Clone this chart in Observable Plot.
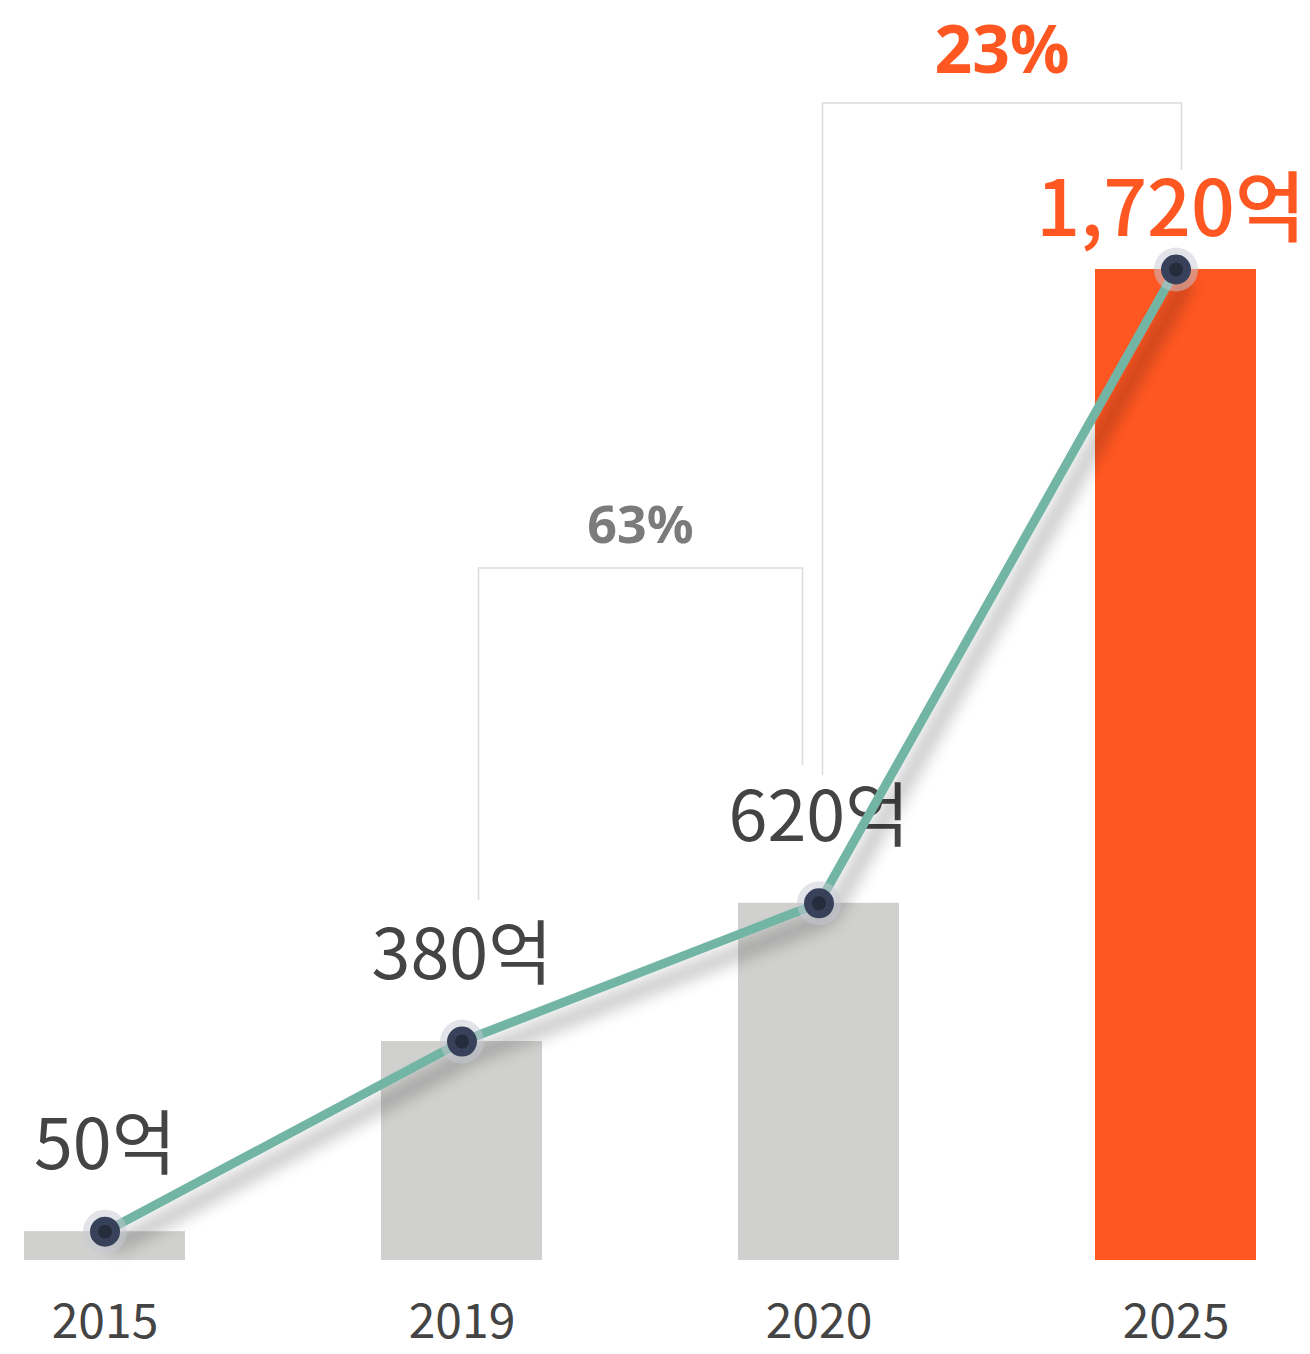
<!DOCTYPE html>
<html>
<head>
<meta charset="utf-8">
<script src="https://cdn.jsdelivr.net/npm/d3@7"></script>
<script src="https://cdn.jsdelivr.net/npm/@observablehq/plot@0.6"></script>
<style>
  html, body { margin: 0; padding: 0; background: #fff; }
  #chart svg { display: block; }
</style>
</head>
<body>
<div id="chart"></div>
<script>
// ---- data ----
const years = ["2015", "2019", "2020", "2025"];
const values = [50, 380, 620, 1720];
const valueLabels = ["50억", "380억", "620억", "1,720억"];
const highlighted = [false, false, false, true];
const growthLabels = ["63%", "23%"];
const growthFrom = ["2019", "2020"];
const growthTo = ["2020", "2025"];

const data = years.map((year, i) => ({ year, value: values[i], label: valueLabels[i], hl: highlighted[i] }));
const base = data.filter(d => !d.hl);
const hot = data.filter(d => d.hl);

const ORANGE = "#ff5722";
const GRAY_BAR = "#d0d0cf";
const TEXT = "#444444";

const chart = Plot.plot({
  width: 1310,
  height: 1354,
  marginTop: 269,
  marginBottom: 94,
  marginLeft: 0,
  marginRight: 30,
  style: { fontFamily: "'Noto Sans CJK KR', 'Noto Sans', sans-serif", fontSize: "48px", color: TEXT, background: "#fff" },
  x: { domain: years, paddingInner: 0.55, paddingOuter: 0.067, axis: null },
  y: { domain: [0, 1720], axis: null },
  marks: [
    Plot.barY(base, { x: "year", y: "value", fill: GRAY_BAR }),
    Plot.barY(hot, { x: "year", y: "value", fill: ORANGE }),
    Plot.axisX({ tickSize: 0, tickPadding: 43, fontSize: 48, fill: TEXT, label: null }),
    Plot.text(base, { x: "year", y: "value", text: "label", dy: -85, fontSize: 70, fill: TEXT }),
    Plot.text(hot, { x: "year", y: "value", text: "label", dx: -5, dy: -58, fontSize: 77, fontWeight: 500, fill: ORANGE }),
    Plot.line(data, { x: "year", y: "value", stroke: "#72b5a5", strokeWidth: 9 }),
    Plot.dot(data, { x: "year", y: "value", r: 22, fill: "#c5c9d4", fillOpacity: 0.5, stroke: "none" }),
    Plot.dot(data, { x: "year", y: "value", r: 13, fill: "#37415a", stroke: "#37415a", strokeWidth: 4 }),
    Plot.dot(data, { x: "year", y: "value", r: 7, fill: "#252c3b", stroke: "none" })
  ]
});

document.getElementById("chart").appendChild(chart);

// ---- soft shadow under the trend line ----
const svg = d3.select(chart);
const defs = svg.insert("defs", ":first-child");
const f = defs.append("filter")
  .attr("id", "lineShadow")
  .attr("filterUnits", "userSpaceOnUse")
  .attr("x", -100).attr("y", -100).attr("width", 1510).attr("height", 1554);
f.append("feGaussianBlur").attr("in", "SourceAlpha").attr("stdDeviation", 9).attr("result", "blur");
f.append("feOffset").attr("in", "blur").attr("dx", 10).attr("dy", 14).attr("result", "off");
f.append("feComponentTransfer").attr("in", "off").attr("result", "shadow")
  .append("feFuncA").attr("type", "linear").attr("slope", 0.4);
const merge = f.append("feMerge");
merge.append("feMergeNode").attr("in", "shadow");
merge.append("feMergeNode").attr("in", "SourceGraphic");

const lineG = chart.querySelector('g[aria-label="line"]');
if (lineG) lineG.setAttribute("filter", "url(#lineShadow)");

// ---- growth brackets (annotation), positioned with the plot's own x scale ----
const sx = chart.scale("x");
const bandStart = sx.apply ? sx.apply : d3.scaleBand(sx.domain, sx.range).paddingInner(sx.paddingInner).paddingOuter(sx.paddingOuter).align(sx.align ?? 0.5);
const center = v => bandStart(v) + sx.bandwidth / 2;

const bracketLayout = [
  { dxFrom: 17, dxTo: -16, top: 568, bottomFrom: 900, bottomTo: 765, fontSize: 52, fill: "#7b7b7b", gap: 25 },
  { dxFrom: 4, dxTo: 6, top: 103, bottomFrom: 775, bottomTo: 170, fontSize: 66, fill: ORANGE, gap: 30 }
];

const ann = svg.insert("g", "defs + *").attr("aria-label", "growth-brackets");
growthLabels.forEach((label, i) => {
  const L = bracketLayout[i];
  const x1 = center(growthFrom[i]) + L.dxFrom;
  const x2 = center(growthTo[i]) + L.dxTo;
  ann.append("path")
    .attr("d", `M${x1},${L.bottomFrom}V${L.top}H${x2}V${L.bottomTo}`)
    .attr("fill", "none")
    .attr("stroke", "#dcdcdc")
    .attr("stroke-width", 1.5);
  ann.append("text")
    .attr("x", (x1 + x2) / 2)
    .attr("y", L.top - L.gap)
    .attr("text-anchor", "middle")
    .attr("font-family", "'Noto Sans', sans-serif")
    .attr("font-size", L.fontSize)
    .attr("font-weight", 700)
    .attr("fill", L.fill)
    .text(label);
});
</script>
</body>
</html>
